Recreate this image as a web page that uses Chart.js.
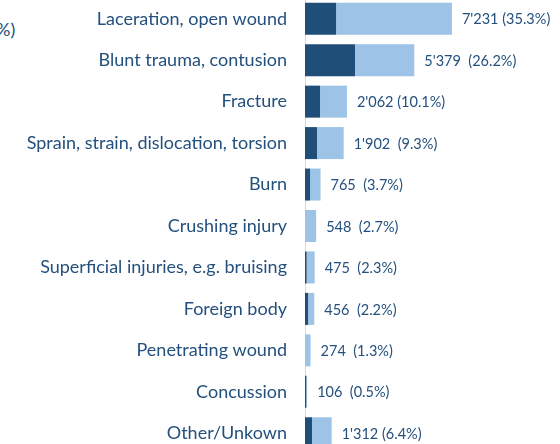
<!DOCTYPE html>
<html>
<head>
<meta charset="utf-8">
<script src="https://cdn.jsdelivr.net/npm/chart.js@4.4.1/dist/chart.umd.min.js"></script>
<style>
  html, body { margin: 0; padding: 0; background: #fff; overflow: hidden; }
  #wrap { position: relative; width: 560px; height: 444px; overflow: hidden; }
  #chart { position: absolute; left: 0; top: -2px; }
  #cut { position: absolute; left: -4px; top: 18px; font: 18px Lato, sans-serif; color: #24507e; }
</style>
</head>
<body>
<div id="wrap">
  <div id="cut">%)</div>
  <canvas id="chart" width="560" height="456"></canvas>
</div>
<script>
const categories = [
    'Laceration, open wound',
    'Blunt trauma, contusion',
    'Fracture',
    'Sprain, strain, dislocation, torsion',
    'Burn',
    'Crushing injury',
    'Superficial injuries, e.g. bruising',
    'Foreign body',
    'Penetrating wound',
    'Concussion',
    'Other/Unkown'
];
const totals = [7231, 5379, 2062, 1902, 765, 548, 475, 456, 274, 106, 1312];
const darkPart = [1530, 2460, 740, 590, 250, 0, 80, 150, 0, 60, 345];
const valueLabels = [
    "7'231 (35.3%)", "5'379  (26.2%)", "2'062 (10.1%)", "1'902  (9.3%)",
    "765  (3.7%)", "548  (2.7%)", "475  (2.3%)", "456  (2.2%)",
    "274  (1.3%)", "106  (0.5%)", "1'312 (6.4%)"
];
const lightPart = totals.map((t, i) => t - darkPart[i]);

const textColor = '#24507e';

const endLabels = {
    id: 'endLabels',
    afterDatasetsDraw(chart) {
        const ctx = chart.ctx;
        const meta = chart.getDatasetMeta(1);
        const xs = chart.scales.x;
        ctx.save();
        ctx.font = '14.5px Lato, sans-serif';
        ctx.fillStyle = textColor;
        ctx.textBaseline = 'middle';
        ctx.textAlign = 'left';
        meta.data.forEach((bar, i) => {
            const x = xs.getPixelForValue(totals[i]);
            ctx.fillText(valueLabels[i], x + 10, bar.y + 1);
        });
        ctx.restore();
    }
};

new Chart(document.getElementById('chart'), {
    type: 'bar',
    data: {
        labels: categories,
        datasets: [
            { data: darkPart, backgroundColor: '#1f4e79', barPercentage: 0.772, categoryPercentage: 1 },
            { data: lightPart, backgroundColor: '#9dc3e6', barPercentage: 0.772, categoryPercentage: 1 }
        ]
    },
    options: {
        indexAxis: 'y',
        responsive: false,
        animation: false,
        layout: { padding: 0 },
        plugins: { legend: { display: false }, tooltip: { enabled: false } },
        scales: {
            x: {
                stacked: true,
                display: false,
                min: 0,
                max: 12550
            },
            y: {
                stacked: true,
                afterFit: (s) => {
                    s.width = 305;
                    s.paddingTop = 0;
                    s.paddingBottom = 0;
                },
                grid: { display: false, drawTicks: false },
                border: { display: true, color: '#d9d9d9', width: 1 },
                ticks: {
                    color: textColor,
                    padding: 18,
                    font: { family: 'Lato, sans-serif', size: 18 }
                }
            }
        }
    },
    plugins: [endLabels]
});
</script>
</body>
</html>
